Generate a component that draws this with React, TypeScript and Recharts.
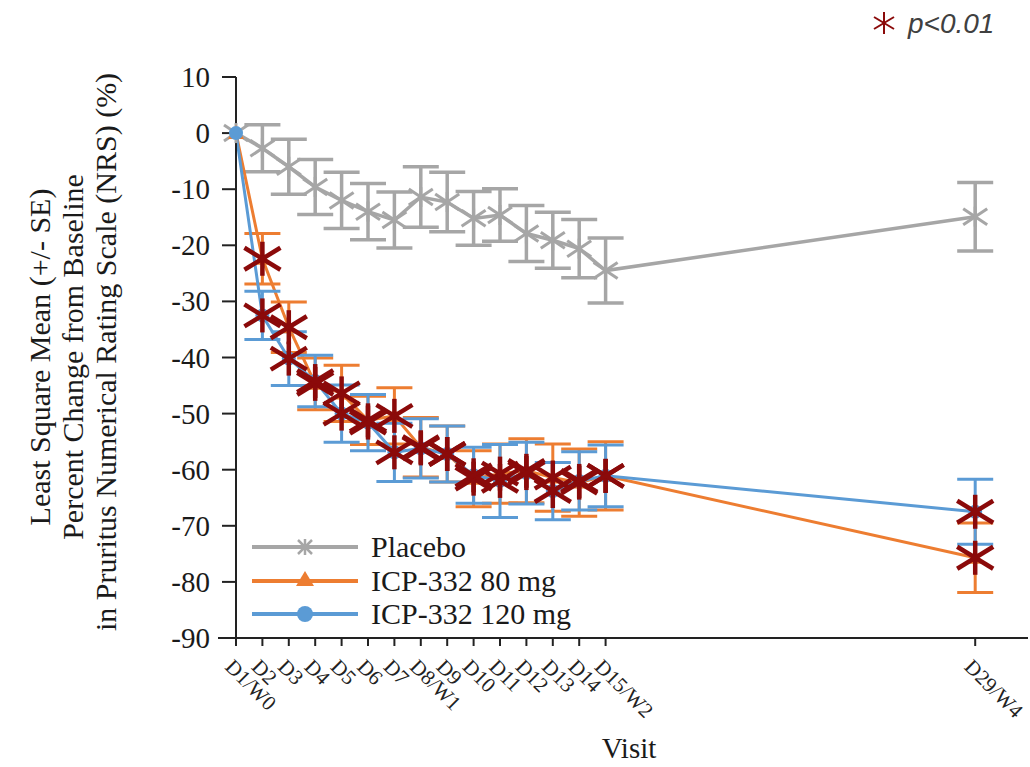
import React from "react";
import { Customized, ErrorBar, Line, LineChart, XAxis, YAxis } from "recharts";

// visit days and their tick labels
const days = [1, 2, 3, 4, 5, 6, 7, 8, 9, 10, 11, 12, 13, 14, 15, 29];
const dayLabels = [
  "D1/W0", "D2", "D3", "D4", "D5", "D6", "D7", "D8/W1", "D9", "D10",
  "D11", "D12", "D13", "D14", "D15/W2", "D29/W4",
];

// LS mean % change from baseline
const placebo = [0, -2.7, -6, -9.6, -12, -14, -15.5, -11.4, -12.3, -15.2, -14.6, -17.9, -19.1, -20.6, -24.5, -14.9];
const placeboSE = [0, 4.2, 4.9, 4.9, 5, 5, 5, 5.4, 5.3, 4.8, 4.7, 5, 5, 5.2, 5.8, 6.1];
const dose80 = [0, -22.4, -34.6, -44.7, -46.4, -51.2, -50.4, -56, -57.2, -61.6, -60.7, -60.2, -61.4, -62.3, -61.1, -75.7];
const dose80SE = [0, 4.5, 4.5, 4.6, 5, 4.3, 5, 5.3, 5, 5, 5.3, 5.7, 6, 6, 6.1, 6.2];
const dose120 = [0, -32.5, -40.2, -44.2, -50, -51.6, -56.9, -56.2, -57.2, -61, -62, -60.6, -63.8, -62, -61.1, -67.5];
const dose120SE = [0, 4.3, 4.8, 4.6, 5.1, 5, 5.2, 5.3, 5, 5, 6.5, 5.5, 5.1, 5.2, 5.5, 5.8];

const yTicks = [10, 0, -10, -20, -30, -40, -50, -60, -70, -80, -90];

const GREY = "#a6a6a6";
const ORANGE = "#ed7d31";
const BLUE = "#5b9bd5";
const DARKRED = "#8b0a0a";
const SERIF = '"Liberation Serif", "DejaVu Serif", serif';
const serif = { fontFamily: SERIF };

const data = days.map((d, i) => ({
  day: d,
  placebo: placebo[i],
  placeboSE: placeboSE[i],
  dose80: dose80[i],
  dose80SE: dose80SE[i],
  dose120: dose120[i],
  dose120SE: dose120SE[i],
}));

const XTick = (props: any) => {
  const { x, y, payload } = props;
  const idx = days.indexOf(payload.value);
  const px = x - 12;
  const py = y + 20;
  return (
    <text
      x={px}
      y={py}
      transform={`rotate(45, ${px}, ${py})`}
      textAnchor="start"
      style={serif}
      fontSize={21}
      fill="#222"
    >
      {dayLabels[idx]}
    </text>
  );
};

const YTick = (props: any) => {
  const { x, y, payload } = props;
  return (
    <text x={x} y={y + 10} textAnchor="end" style={serif} fontSize={29} fill="#1a1a1a">
      {payload.value}
    </text>
  );
};

const PlaceboDot = (props: any) => {
  const { cx, cy } = props;
  if (cx == null || cy == null) return <g />;
  return (
    <g stroke={GREY} strokeWidth={3}>
      <line x1={cx - 12} y1={cy - 8} x2={cx + 12} y2={cy + 8} />
      <line x1={cx - 12} y1={cy + 8} x2={cx + 12} y2={cy - 8} />
      <line x1={cx} y1={cy - 10} x2={cx} y2={cy + 10} />
    </g>
  );
};

const TriangleDot = (props: any) => {
  const { cx, cy } = props;
  if (cx == null || cy == null) return <g />;
  return <polygon points={`${cx},${cy - 8} ${cx + 8},${cy + 6} ${cx - 8},${cy + 6}`} fill={ORANGE} />;
};

const CircleDot = (props: any) => {
  const { cx, cy } = props;
  if (cx == null || cy == null) return <g />;
  return <circle cx={cx} cy={cy} r={7} fill={BLUE} />;
};

// significance marker (p<0.01), not on baseline
const StarDot = (props: any) => {
  const { cx, cy, index } = props;
  if (cx == null || cy == null || index === 0) return <g />;
  return (
    <g stroke={DARKRED} strokeWidth={4.5}>
      <line x1={cx} y1={cy - 17} x2={cx} y2={cy + 17} />
      <line x1={cx - 18} y1={cy - 11} x2={cx + 18} y2={cy + 11} />
      <line x1={cx - 18} y1={cy + 11} x2={cx + 18} y2={cy - 11} />
    </g>
  );
};

const Annotations = () => (
  <g>
    {/* y axis title */}
    <g style={serif} fontSize={30} fill="#1a1a1a" textAnchor="middle">
      <text x={50} y={357} transform="rotate(-90, 50, 357)">Least Square Mean (+/- SE)</text>
      <text x={83} y={357} transform="rotate(-90, 83, 357)">Percent Change from Baseline</text>
      <text x={116} y={352} transform="rotate(-90, 116, 352)">in Pruritus Numerical Rating Scale (NRS) (%)</text>
    </g>
    <text x={629} y={758} textAnchor="middle" style={serif} fontSize={29} fill="#1a1a1a">
      Visit
    </text>

    {/* x axis stub left of the y axis */}
    <line x1={218} y1={638} x2={236} y2={638} stroke="#222" strokeWidth={2} />

    {/* legend */}
    <g style={serif} fontSize={30} fill="#1a1a1a">
      <line x1={252} y1={547} x2={358} y2={547} stroke={GREY} strokeWidth={4} />
      <g stroke={GREY} strokeWidth={2.5}>
        <line x1={298} y1={540} x2={312} y2={554} />
        <line x1={298} y1={554} x2={312} y2={540} />
        <line x1={305} y1={539} x2={305} y2={555} />
      </g>
      <text x={371} y={557}>Placebo</text>

      <line x1={252} y1={581} x2={358} y2={581} stroke={ORANGE} strokeWidth={4} />
      <polygon points="305,571 314,586 296,586" fill={ORANGE} />
      <text x={371} y={591}>ICP-332 80 mg</text>

      <line x1={252} y1={614} x2={358} y2={614} stroke={BLUE} strokeWidth={4} />
      <circle cx={305} cy={614} r={8} fill={BLUE} />
      <text x={371} y={624}>ICP-332 120 mg</text>
    </g>

    {/* significance note */}
    <g stroke={DARKRED} strokeWidth={2}>
      <line x1={884} y1={12} x2={884} y2={34} />
      <line x1={874} y1={17} x2={894} y2={29} />
      <line x1={874} y1={29} x2={894} y2={17} />
    </g>
    <text
      x={908}
      y={33}
      style={{ fontFamily: '"Liberation Sans", Arial, sans-serif' }}
      fontStyle="italic"
      fontSize={28}
      fill="#404040"
    >
      p&lt;0.01
    </text>
  </g>
);

export default function App() {
  return (
    <div style={{ position: "absolute", left: 0, top: 0, background: "#fff" }}>
      <LineChart width={1030} height={767} data={data} margin={{ top: 77, right: 2, bottom: 99, left: 0 }}>
        <XAxis
          type="number"
          dataKey="day"
          domain={[1, 31]}
          ticks={days}
          interval={0}
          tick={<XTick />}
          tickSize={8}
          height={30}
          axisLine={{ stroke: "#222", strokeWidth: 2 }}
          tickLine={{ stroke: "#222", strokeWidth: 2 }}
        />
        <YAxis
          type="number"
          domain={[-90, 10]}
          ticks={yTicks}
          interval={0}
          width={236}
          tickSize={14}
          tickMargin={12}
          tick={<YTick />}
          axisLine={{ stroke: "#222", strokeWidth: 2 }}
          tickLine={{ stroke: "#222", strokeWidth: 2 }}
        />
        <Line
          dataKey="placebo"
          stroke={GREY}
          strokeWidth={3.5}
          dot={<PlaceboDot />}
          activeDot={false}
          isAnimationActive={false}
        >
          <ErrorBar dataKey="placeboSE" direction="y" width={18} stroke={GREY} strokeWidth={3.5} />
        </Line>
        <Line
          dataKey="dose80"
          stroke={ORANGE}
          strokeWidth={3}
          dot={<TriangleDot />}
          activeDot={false}
          isAnimationActive={false}
        >
          <ErrorBar dataKey="dose80SE" direction="y" width={18} stroke={ORANGE} strokeWidth={3} />
        </Line>
        <Line
          dataKey="dose120"
          stroke={BLUE}
          strokeWidth={3}
          dot={<CircleDot />}
          activeDot={false}
          isAnimationActive={false}
        >
          <ErrorBar dataKey="dose120SE" direction="y" width={18} stroke={BLUE} strokeWidth={3} />
        </Line>
        <Line dataKey="dose80" stroke="none" dot={<StarDot />} activeDot={false} legendType="none" isAnimationActive={false} />
        <Line dataKey="dose120" stroke="none" dot={<StarDot />} activeDot={false} legendType="none" isAnimationActive={false} />
        <Customized component={Annotations} />
      </LineChart>
    </div>
  );
}
